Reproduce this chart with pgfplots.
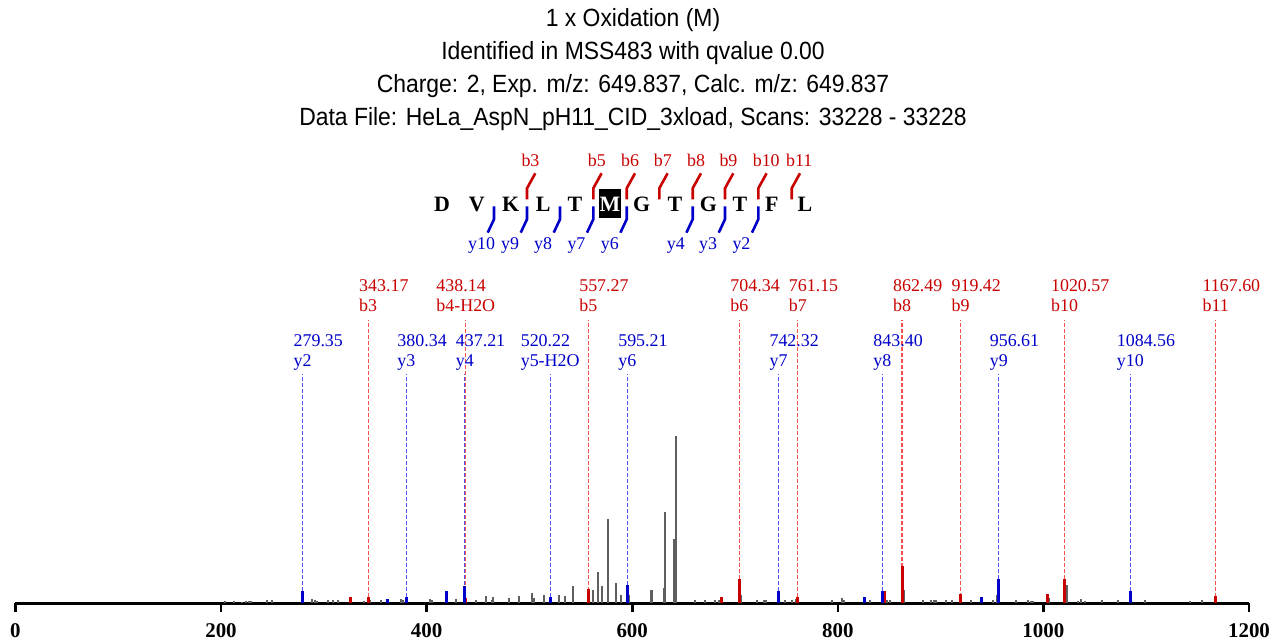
\documentclass[border=0pt]{standalone}
\usepackage{pgfplots}
\pgfplotsset{compat=1.18}
\usepackage{fontspec}
\setmainfont{Liberation Serif}
\newfontfamily\arialfont[FakeStretch=0.92]{Liberation Sans}
\definecolor{mred}{RGB}{200,0,0}
\definecolor{mblue}{RGB}{0,0,200}
\definecolor{dred}{RGB}{255,80,80}
\definecolor{dblue}{RGB}{80,80,255}
\definecolor{pgray}{RGB}{95,95,95}
\protected\def\pkr#1#2{\setbox0=\hbox{#2}\makebox[0pt][c]{\rlap{\raisebox{19.7bp}{#1}}\box0}}
\protected\def\pkb#1#2{\setbox0=\hbox{#2}\makebox[0pt][c]{\rlap{\raisebox{20.5bp}{#1}}\box0}}
\begin{document}
\begin{tikzpicture}
\begin{axis}[
  scale only axis, width=1233.6bp, height=603bp,
  xmin=0, xmax=1200, ymin=0, ymax=603,
  axis x line*=bottom, axis y line=none,
  axis line style={line width=3bp, black},
  xtick={0,200,...,1200},
  tick align=outside, major tick length=9bp,
  xtick style={line width=2.6bp, black},
  xticklabel style={font=\fontsize{21}{23}\selectfont\bfseries, inner sep=0pt, yshift=-11.5bp},
  /pgf/number format/assume math mode=true,
  /pgf/number format/1000 sep={},
  clip=false,
]
% dashed annotation lines
\addplot[ycomb, dred, line width=1.2bp, dash pattern=on 4bp off 2bp, mark=none] coordinates {
 (343.17,283) (438.14,283) (557.27,283) (704.34,283) (761.15,283)
 (862.49,283) (919.42,283) (1020.57,283) (1167.60,283)};
\addplot[ycomb, dblue, line width=1.2bp, dash pattern=on 4bp off 2bp, mark=none] coordinates {
 (279.35,229) (380.34,229) (437.21,229) (520.22,229) (595.21,229)
 (742.32,229) (843.40,229) (956.61,229) (1084.56,229)};
% unmatched peaks
\addplot[ycomb, pgray, line width=2bp, mark=none] coordinates {
 (203.6,2) (212.6,2) (220,1.5) (224,2) (227,2) (229,2.5) (245,3) (250,3)
 (288.5,4) (291,3) (293,2.5) (304,3) (309,3) (313.5,3) (339,2.5) (345,3)
 (356,3) (375,4) (377,3) (403.3,4) (405,3) (429,4) (448,3) (458,7) (463.5,3)
 (465,6) (480,5) (489.6,7) (502.9,10) (504.5,5) (514,8) (528.8,8) (535,7)
 (542.7,17) (561.9,13) (566.4,31) (570.3,17) (576.5,84) (584.2,20) (589,8)
 (597,8) (618.2,13) (619.5,13) (631,15) (632.2,91) (640.5,64) (642.2,167)
 (661,3) (671,3) (681,3) (684,3) (706,8) (721,3) (728,3) (730,3) (749,3)
 (755,3) (759,4) (794,3) (804.4,5) (806,3) (831.4,3) (848,3) (851,3) (864,13)
 (882.5,3) (891,3) (894,3) (896,3) (905,3) (911,3) (929.5,3) (951,3) (955,8)
 (973,3) (985,3) (988,2) (990,2) (1005.5,5) (1022.5,18) (1034,2) (1037,4)
 (1040,2) (1057,3) (1073,3) (1099,3) (1143,2) (1154,3)};
% matched b ions
\addplot[ycomb, mred, line width=3bp, mark=none] coordinates {
 (325.5,6) (343.17,6) (438.14,5) (557.27,14) (686.5,6) (704.34,24) (761.15,6)
 (845.5,12) (862.49,37) (919.42,9) (1003.8,9) (1020.57,24) (1167.60,7)};
% matched y ions
\addplot[ycomb, mblue, line width=3bp, mark=none] coordinates {
 (279.35,12) (362,4) (380.34,6) (419.5,12) (437.21,17) (520.22,6) (595.21,18)
 (742.32,12) (825.8,6) (843.40,12) (939.6,6) (956.61,24) (1084.56,12)};
% labels
\addplot[draw=none, mark=none, nodes near coords, point meta=explicit symbolic,
  nodes near coords align={anchor=base},
  every node near coord/.style={font=\fontsize{18}{20}\selectfont, text=mred, inner sep=0pt, anchor=base}]
 coordinates {
 (343.17,291.3) [\pkr{343.17}{b3}]
 (438.14,291.3) [\pkr{438.14}{b4-H2O}]
 (557.27,291.3) [\pkr{557.27}{b5}]
 (704.34,291.3) [\pkr{704.34}{b6}]
 (761.15,291.3) [\pkr{761.15}{b7}]
 (862.49,291.3) [\pkr{862.49}{b8}]
 (919.42,291.3) [\pkr{919.42}{b9}]
 (1020.57,291.3) [\pkr{1020.57}{b10}]
 (1167.60,291.3) [\pkr{1167.60}{b11}]};
\addplot[draw=none, mark=none, nodes near coords, point meta=explicit symbolic,
  nodes near coords align={anchor=base},
  every node near coord/.style={font=\fontsize{18}{20}\selectfont, text=mblue, inner sep=0pt, anchor=base}]
 coordinates {
 (279.35,236.3) [\pkb{279.35}{y2}]
 (380.34,236.3) [\pkb{380.34}{y3}]
 (437.21,236.3) [\pkb{437.21}{y4}]
 (520.22,236.3) [\pkb{520.22}{y5-H2O}]
 (595.21,236.3) [\pkb{595.21}{y6}]
 (742.32,236.3) [\pkb{742.32}{y7}]
 (843.40,236.3) [\pkb{843.40}{y8}]
 (956.61,236.3) [\pkb{956.61}{y9}]
 (1084.56,236.3) [\pkb{1084.56}{y10}]};
\coordinate (tl) at ([xshift=-15.4bp]axis cs:0,603);
\end{axis}
\begin{scope}[shift={(tl)}, x=1bp, y=-1bp]
 % titles
 \begin{scope}[every node/.style={font=\arialfont\fontsize{25}{27}\selectfont, anchor=base, inner sep=0pt}]
  \node at (633,27) {1 x Oxidation (M)};
  \node at (633,60) {Identified in MSS483 with qvalue 0.00};
  \node at (633,92.5) {Charge: 2, Exp. m/z: 649.837, Calc. m/z: 649.837};
  \node at (633,126) {Data File: HeLa\_AspN\_pH11\_CID\_3xload, Scans: 33228 - 33228};
 \end{scope}
 % sequence
 \fill[black] (599,189) rectangle (620.7,217.7);
 \begin{scope}[every node/.style={font=\fontsize{22}{24}\selectfont\bfseries, anchor=base, inner sep=0pt}]
  \node at (442,211.7) {D};
  \node at (476.7,211.7) {V};
  \node at (510.7,211.7) {K};
  \node at (543.3,211.7) {L};
  \node at (575,211.7) {T};
  \node[text=white] at (610,211.7) {M};
  \node at (641.7,211.7) {G};
  \node at (675,211.7) {T};
  \node at (708.3,211.7) {G};
  \node at (740,211.7) {T};
  \node at (771.7,211.7) {F};
  \node at (805,211.7) {L};
 \end{scope}
 \foreach \g/\lab in {527/b3,593.3/b5,626.7/b6,659.3/b7,692.7/b8,725/b9,758.3/b10,791.7/b11}{
   \draw[mred, line width=2.6bp] (\g,199.3) -- (\g,188.3) -- (\g+8.3,173.3);
   \node[mred, font=\fontsize{18}{20}\selectfont, anchor=base west, inner sep=0pt] at (\g-5.7,167) {\lab};
 }
 \foreach \g/\lab in {494/y10,527/y9,560/y8,593.3/y7,626.7/y6,692.7/y4,725/y3,758.3/y2}{
   \draw[mblue, line width=2.6bp] (\g,206.3) -- (\g,219.3) -- (\g-6.3,232.7);
   \node[mblue, font=\fontsize{18}{20}\selectfont, anchor=base west, inner sep=0pt] at (\g-26,250) {\lab};
 }
\end{scope}
\pgfresetboundingbox
\path[use as bounding box] (tl) rectangle ++(1281bp,-642bp);
\end{tikzpicture}
\end{document}
